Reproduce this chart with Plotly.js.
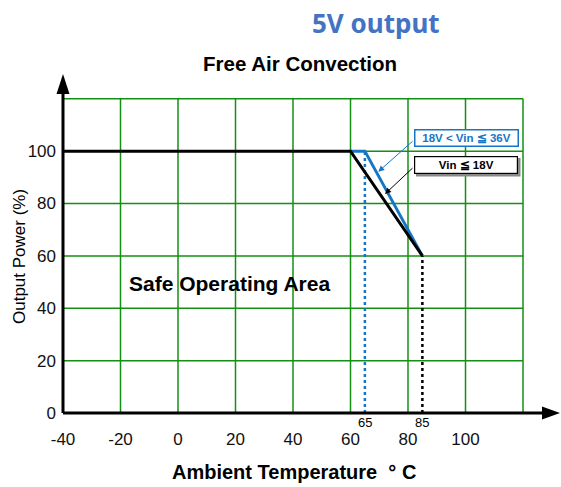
<!DOCTYPE html>
<html>
<head>
<meta charset="utf-8">
<script src="https://cdn.plot.ly/plotly-3.0.1.min.js"></script>
<style>html,body{margin:0;padding:0;background:#fff;}#chart{width:561px;height:487px;}</style>
</head>
<body>
<div id="chart"></div>
<script>
// ---- data ----
const xTickVals = [-40, -20, 0, 20, 40, 60, 80, 100];
const xTickText = ['-40', '-20', '0', '20', '40', '60', '80', '100'];
const yTickVals = [0, 20, 40, 60, 80, 100];
const yTickText = ['0', '20', '40', '60', '80', '100'];
const gridXVals = [-20, 0, 20, 40, 60, 80, 100, 120];
const gridYVals = [20, 40, 60, 80, 100, 120];
const lowVinTemp = [-40, 60, 85];      // Vin <= 18V
const lowVinPower = [100, 100, 60];
const highVinTemp = [60, 65, 85];      // 18V < Vin <= 36V
const highVinPower = [100, 100, 60];
const markTemps = ['65', '85'];

// ---- layout geometry ----
const L = 63, T = 93, W = 482, H = 320;
const XR = [-40, 127.65], YR = [0, 122.2];
const px2x = p => XR[0] + (p - L) * (XR[1] - XR[0]) / W;
const py2y = p => (T + H - p) * (YR[1] - YR[0]) / H;
const pxp = p => (p - L) / W;
const pyp = p => (T + H - p) / H;

const BLUE = '#1676c6';
const GREEN = '#138f13';
const FONT = 'Liberation Sans, Arial, sans-serif';

const traces = [
  {x: [highVinTemp[1], highVinTemp[1]], y: [0, highVinPower[1]], mode: 'lines',
   line: {color: BLUE, width: 2.5, dash: 'dot'}, hoverinfo: 'skip'},
  {x: [lowVinTemp[2], lowVinTemp[2]], y: [0, lowVinPower[2]], mode: 'lines',
   line: {color: '#000', width: 2.5, dash: 'dot'}, hoverinfo: 'skip'},
  {x: highVinTemp, y: highVinPower, mode: 'lines', line: {color: BLUE, width: 3}, name: '18V < Vin ≦ 36V'},
  {x: lowVinTemp, y: lowVinPower, mode: 'lines', line: {color: '#000', width: 3}, name: 'Vin ≦ 18V'}
];

const shapes = [];
gridXVals.forEach(v => shapes.push({type: 'line', xref: 'x', yref: 'y', x0: v, x1: v, y0: 0, y1: gridYVals[gridYVals.length - 1],
  line: {color: GREEN, width: 1.5}, layer: 'below'}));
gridYVals.forEach(v => shapes.push({type: 'line', xref: 'x', yref: 'y', y0: v, y1: v, x0: xTickVals[0], x1: gridXVals[gridXVals.length - 1],
  line: {color: GREEN, width: 1.5}, layer: 'below'}));
// axes lines
shapes.push({type: 'line', xref: 'paper', yref: 'paper', x0: 0, x1: 1, y0: 0, y1: 0, line: {color: '#000', width: 3}});
shapes.push({type: 'line', xref: 'paper', yref: 'paper', x0: 0, x1: 0, y0: 0, y1: 1, line: {color: '#000', width: 3}});
// arrowheads
shapes.push({type: 'path', xref: 'paper', yref: 'paper', xsizemode: 'pixel', ysizemode: 'pixel', xanchor: 1, yanchor: 0,
  path: 'M-3,6.5 L15,0 L-3,-6.5 Z', fillcolor: '#000', line: {width: 0}});
shapes.push({type: 'path', xref: 'paper', yref: 'paper', xsizemode: 'pixel', ysizemode: 'pixel', xanchor: 0, yanchor: 1,
  path: 'M-6.5,-1 L6.5,-1 L0,19 Z', fillcolor: '#000', line: {width: 0}});
// shadow of black legend box
shapes.push({type: 'rect', xref: 'x', yref: 'y', x0: px2x(416), x1: px2x(520.5), y0: py2y(176.5), y1: py2y(158),
  fillcolor: '#8a8a8a', line: {width: 0}});

const C = {xanchor: 'center', yanchor: 'middle', showarrow: false};
const annotations = [
  Object.assign({text: '<b>5V output</b>', xref: 'paper', yref: 'paper', x: pxp(376), y: pyp(23),
   font: {family: 'Noto Sans, sans-serif', size: 26, color: '#4472C4'}}, C),
  Object.assign({text: '<b>Free Air Convection</b>', xref: 'paper', yref: 'paper', x: pxp(299.5), y: pyp(63),
   font: {family: FONT, size: 20.5, color: '#000'}}, C),
  Object.assign({text: '<b>Safe Operating Area</b>', xref: 'x', yref: 'y', x: px2x(229), y: py2y(283),
   font: {family: FONT, size: 21, color: '#000'}}, C),
  Object.assign({text: '<b>Ambient Temperature  ° C</b>', xref: 'paper', yref: 'paper', x: pxp(293.5), y: pyp(472),
   font: {family: FONT, size: 20, color: '#000'}}, C),
  Object.assign({text: 'Output Power (%)', xref: 'paper', yref: 'paper', x: pxp(19), y: pyp(257), textangle: -90,
   font: {family: FONT, size: 17, color: '#000'}}, C),
  Object.assign({text: markTemps[0], xref: 'x', yref: 'paper', x: highVinTemp[1], y: pyp(422),
   font: {family: FONT, size: 13, color: '#000'}}, C),
  Object.assign({text: markTemps[1], xref: 'x', yref: 'paper', x: lowVinTemp[2], y: pyp(422),
   font: {family: FONT, size: 13, color: '#000'}}, C),
  // legend boxes
  Object.assign({text: '<b>18V &lt; Vin ≦ 36V</b>', xref: 'x', yref: 'y', x: px2x(466), y: py2y(137.7),
   width: 100, height: 13, borderpad: 1, borderwidth: 1.5, bordercolor: BLUE, bgcolor: '#fff',
   font: {family: FONT, size: 11.5, color: BLUE}}, C),
  Object.assign({text: '<b>Vin ≦ 18V</b>', xref: 'x', yref: 'y', x: px2x(466), y: py2y(165),
   width: 100, height: 14, borderpad: 1, borderwidth: 1.2, bordercolor: '#000', bgcolor: '#fff',
   font: {family: FONT, size: 11.5, color: '#000'}}, C),
  // pointer arrows
  {text: '', xref: 'x', yref: 'y', axref: 'x', ayref: 'y', x: px2x(378.3), y: py2y(171.7), ax: px2x(414), ay: py2y(140),
   showarrow: true, arrowcolor: BLUE, arrowwidth: 1, arrowhead: 2, arrowsize: 1.2},
  {text: '', xref: 'x', yref: 'y', axref: 'x', ayref: 'y', x: px2x(385), y: py2y(194), ax: px2x(414), ay: py2y(166.7),
   showarrow: true, arrowcolor: '#000', arrowwidth: 1, arrowhead: 2, arrowsize: 1.2}
];

const layout = {
  width: 561, height: 487,
  margin: {l: L, r: 561 - L - W, t: T, b: 487 - T - H},
  paper_bgcolor: '#fff', plot_bgcolor: '#fff',
  showlegend: false,
  xaxis: {range: XR, showgrid: false, zeroline: false, showline: false, ticks: '',
          tickvals: xTickVals, ticktext: xTickText, ticklabelstandoff: 14,
          tickfont: {family: FONT, size: 17, color: '#111'}, fixedrange: true},
  yaxis: {range: YR, showgrid: false, zeroline: false, showline: false, ticks: '',
          tickvals: yTickVals, ticktext: yTickText, ticklabelstandoff: 6,
          tickfont: {family: FONT, size: 17, color: '#111'}, fixedrange: true},
  shapes: shapes,
  annotations: annotations
};

Plotly.newPlot('chart', traces, layout, {displayModeBar: false, staticPlot: true});
</script>
</body>
</html>
